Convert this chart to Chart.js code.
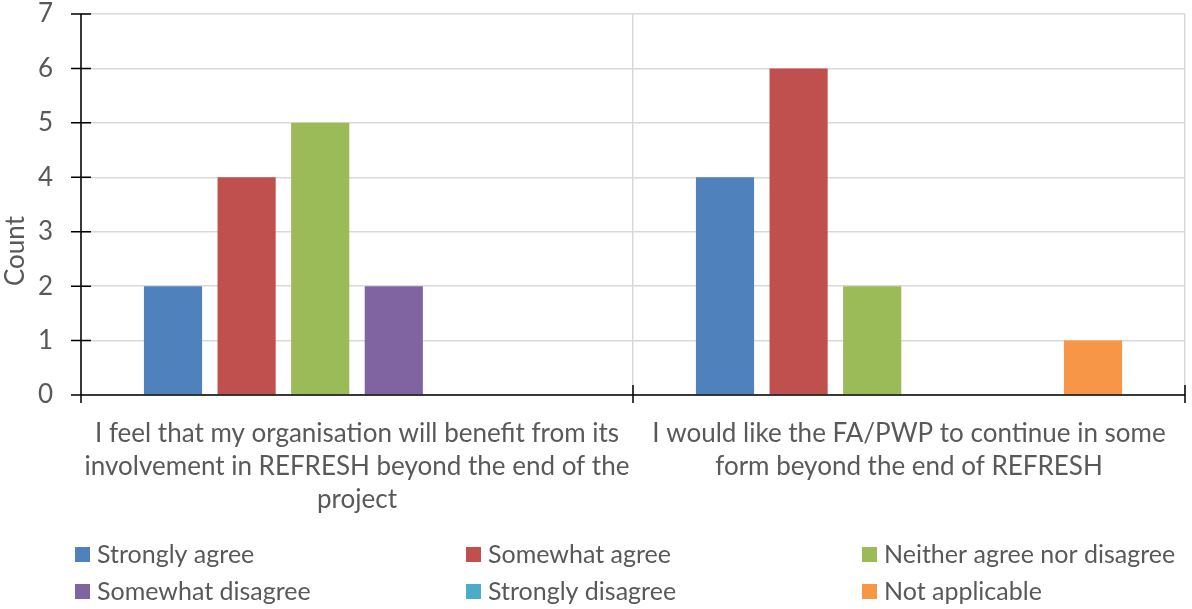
<!DOCTYPE html>
<html>
<head>
<meta charset="utf-8">
<script src="https://cdn.jsdelivr.net/npm/chart.js@4.4.3/dist/chart.umd.min.js"></script>
<style>
  html, body { margin: 0; padding: 0; background: #fff; }
  #wrap { width: 1192px; height: 609px; position: relative; }
</style>
</head>
<body>
<div id="wrap"><canvas id="chart"></canvas></div>
<script>
// ─── Data ────────────────────────────────────────────────────────────────────
const categories = [
  ['I feel that my organisation will benefit from its', 'involvement in REFRESH beyond the end of the', 'project'],
  ['I would like the FA/PWP to continue in some', 'form beyond the end of REFRESH'],
];
const seriesNames = ['Strongly agree', 'Somewhat agree', 'Neither agree nor disagree',
                     'Somewhat disagree', 'Strongly disagree', 'Not applicable'];
const stronglyAgree    = [2, 4];
const somewhatAgree    = [4, 6];
const neither          = [5, 2];
const somewhatDisagree = [2, 0];
const stronglyDisagree = [0, 0];
const notApplicable    = [0, 1];
const yTicks = [0, 1, 2, 3, 4, 5, 6, 7];
const yTitle = 'Count';

const seriesColors = ['#4F81BD', '#C0504D', '#9BBB59', '#8064A2', '#4BACC6', '#F79646'];
const textColor = '#595959';
const FONT = "Lato, 'Open Sans', sans-serif";

const values = [stronglyAgree, somewhatAgree, neither, somewhatDisagree, stronglyDisagree, notApplicable];

// ─── Plugins ─────────────────────────────────────────────────────────────────
// Excel-style "cross" tick marks on both axes
const crossTicks = {
  id: 'crossTicks',
  afterDatasetsDraw(chart) {
    const { ctx, scales: { x, y }, chartArea } = chart;
    ctx.save();
    ctx.strokeStyle = '#000';
    ctx.lineWidth = 1.5;
    ctx.beginPath();
    // axis lines
    ctx.moveTo(chartArea.left, chartArea.top);
    ctx.lineTo(chartArea.left, chartArea.bottom);
    ctx.moveTo(chartArea.left, chartArea.bottom);
    ctx.lineTo(chartArea.right, chartArea.bottom);
    y.ticks.forEach((t, i) => {
      const py = y.getPixelForTick(i);
      ctx.moveTo(chartArea.left - 10, py);
      ctx.lineTo(chartArea.left + 10, py);
    });
    const n = x.ticks.length;
    for (let i = 0; i <= n; i++) {
      const px = chartArea.left + (chartArea.right - chartArea.left) * i / n;
      ctx.moveTo(px, chartArea.bottom - 10);
      ctx.lineTo(px, chartArea.bottom + 8);
    }
    ctx.stroke();
    ctx.restore();
  },
};

// Vertical axis title, centred over plot + category labels like Excel does
const axisTitle = {
  id: 'axisTitle',
  afterDraw(chart) {
    const { ctx, chartArea } = chart;
    const cy = (chartArea.top + chartArea.bottom + 93) / 2;
    ctx.save();
    ctx.translate(16, cy);
    ctx.rotate(-Math.PI / 2);
    ctx.font = `26px ${FONT}`;
    ctx.fillStyle = textColor;
    ctx.textAlign = 'center';
    ctx.textBaseline = 'middle';
    ctx.fillText(yTitle, 0, 0);
    ctx.restore();
  },
};

// Three-column legend beneath the plot
const gridLegend = {
  id: 'gridLegend',
  afterDraw(chart) {
    const { ctx } = chart;
    const cols = [75, 466, 862];
    const rows = [555, 592];
    ctx.save();
    ctx.font = `25px ${FONT}`;
    ctx.textBaseline = 'middle';
    chart.data.datasets.forEach((ds, i) => {
      const cx = cols[i % 3];
      const cy = rows[Math.floor(i / 3)];
      ctx.fillStyle = ds.backgroundColor;
      ctx.fillRect(cx, cy - 8, 15, 15);
      ctx.fillStyle = textColor;
      ctx.fillText(ds.label, cx + 22, cy);
    });
    ctx.restore();
  },
};

// ─── Chart ───────────────────────────────────────────────────────────────────
new Chart(document.getElementById('chart'), {
  type: 'bar',
  data: {
    labels: categories,
    datasets: seriesNames.map((name, i) => ({
      label: name,
      data: values[i],
      backgroundColor: seriesColors[i],
      borderWidth: 0,
      categoryPercentage: 0.8,
      barPercentage: 0.79,
    })),
  },
  options: {
    responsive: true,
    maintainAspectRatio: false,
    animation: false,
    layout: { padding: { top: 14, right: 7, left: 0, bottom: 0 } },
    plugins: {
      legend: { display: false },
      tooltip: { enabled: false },
    },
    scales: {
      x: {
        grid: { color: '#d9d9d9', lineWidth: 1.5, offset: true, drawTicks: false },
        border: { display: false },
        ticks: {
          color: textColor,
          font: { family: FONT, size: 26, lineHeight: 1.27 },
          padding: 22,
          maxRotation: 0,
          autoSkip: false,
        },
        afterFit: s => { s.height = 609 - 395; s.paddingLeft = 0; s.paddingRight = 0; },
      },
      y: {
        min: 0,
        max: 7,
        grid: { color: '#d9d9d9', lineWidth: 1.5, drawTicks: false },
        border: { display: false },
        ticks: {
          color: textColor,
          font: { family: FONT, size: 26 },
          padding: 28,
          stepSize: 1,
          callback: v => yTicks.includes(v) ? v : '',
        },
        afterFit: s => { s.width = 81; s.paddingTop = 0; s.paddingBottom = 0; },
      },
    },
  },
  plugins: [crossTicks, axisTitle, gridLegend],
});
</script>
</body>
</html>
